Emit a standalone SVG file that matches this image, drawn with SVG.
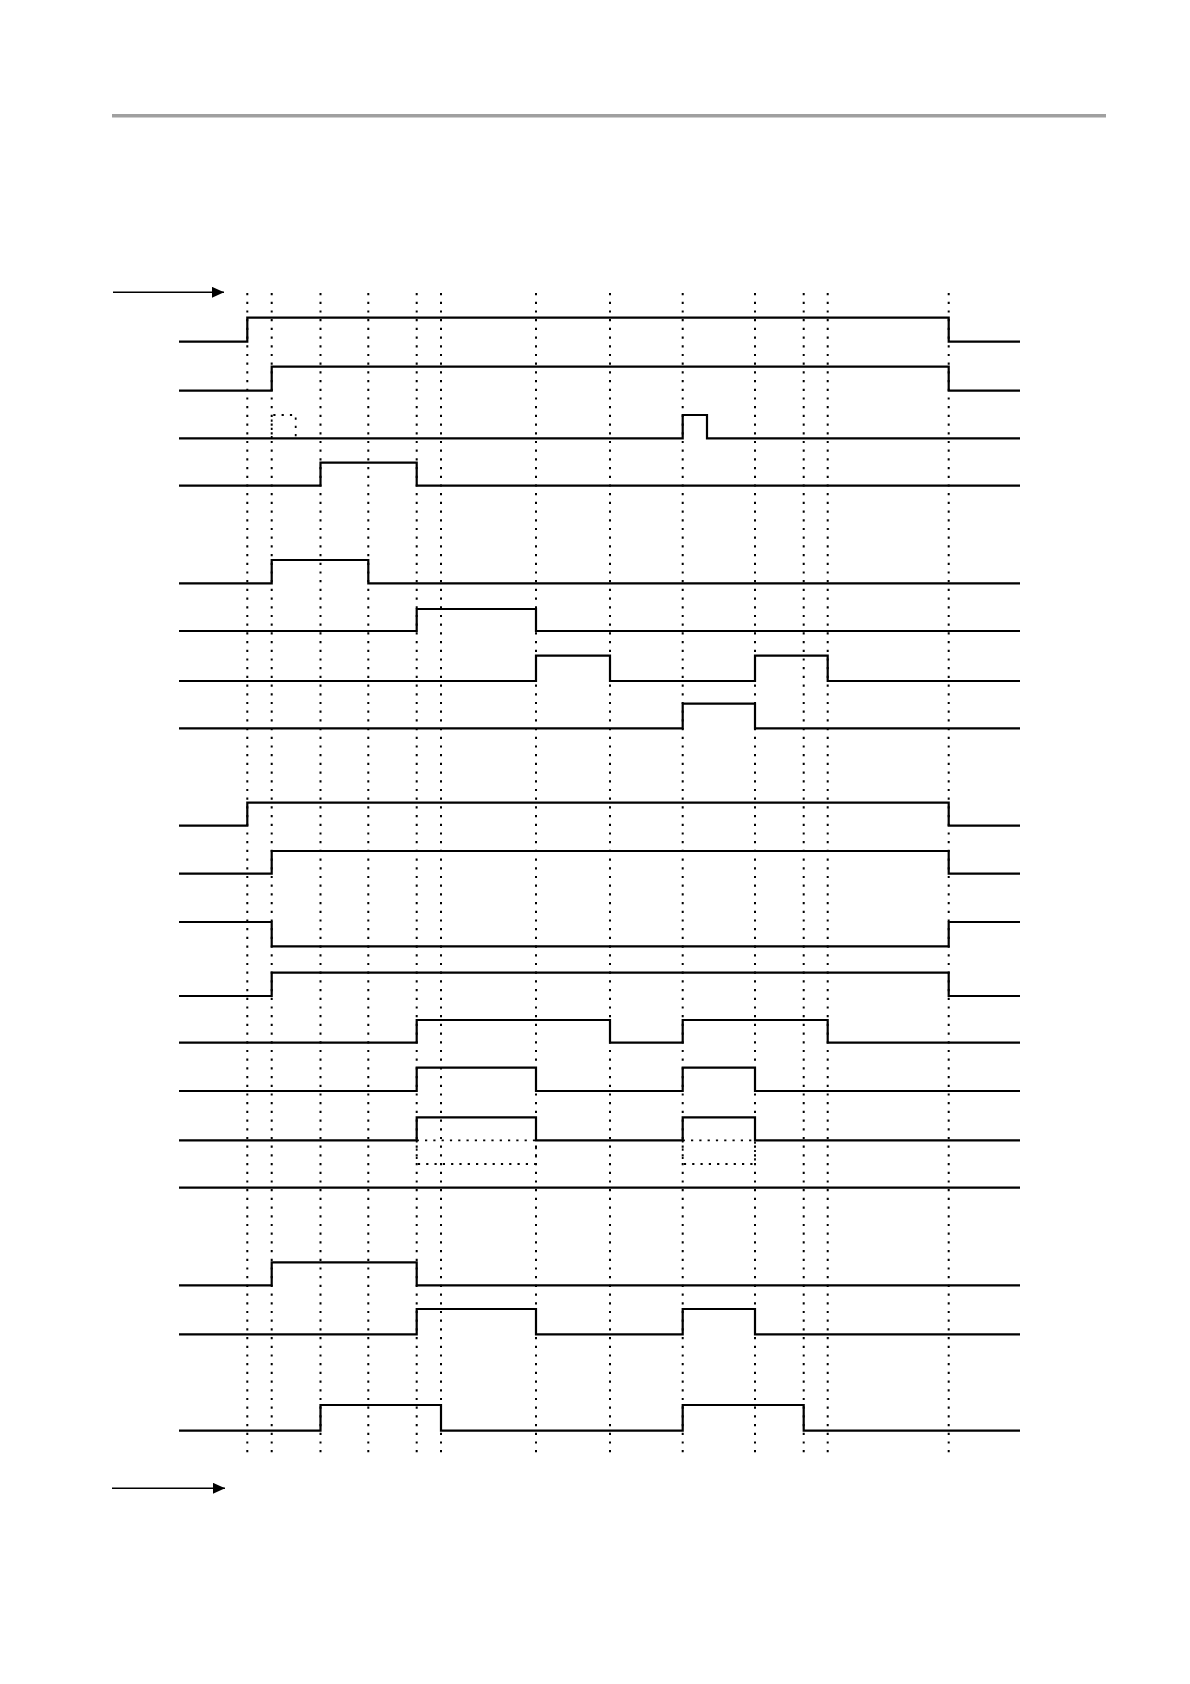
<svg xmlns="http://www.w3.org/2000/svg" width="1190" height="1684" viewBox="0 0 1190 1684">
<style>
.sig{fill:none;stroke:#000;stroke-width:2.2;stroke-linejoin:miter}
.grid{fill:none;stroke:#000;stroke-width:2;stroke-dasharray:2.2 6.5}
.dot{fill:none;stroke:#000;stroke-width:1.8;stroke-dasharray:2.2 6.1}
.arr{fill:none;stroke:#000;stroke-width:1.5}
</style>
<defs>
<marker id="ah" viewBox="0 0 12 11" refX="12" refY="5.5" markerWidth="12" markerHeight="11" markerUnits="userSpaceOnUse" orient="auto">
<path d="M0 0 L12 5.5 L0 11 Z" fill="#000"/>
</marker>
</defs>
<rect width="1190" height="1684" fill="#fff"/>
<line x1="112" y1="115.8" x2="1106" y2="115.8" stroke="#a0a0a0" stroke-width="3.6"/>
<g id="grid">
<path class="grid" d="M247.3 293V1454M271.7 293V1454M320.5 293V1454M368.3 293V1454M416.7 293V1454M441 293V1454M536 293V1454M610 293V1454M682.7 293V1454M755 293V1454M803.7 293V1454M827.7 293V1454M948.7 293V1454"/>
</g>
<g id="connectors">
<line class="arr" x1="113" y1="292.3" x2="224" y2="292.3" marker-end="url(#ah)"/>
<line class="arr" x1="112" y1="1488.3" x2="225" y2="1488.3" marker-end="url(#ah)"/>
</g>
<g id="s1"><path class="sig" d="M179 341.7H247.3V317.7H948.7V341.7H1020"/></g>
<g id="s2"><path class="sig" d="M179 390.7H271.7V366.7H948.7V390.7H1020"/></g>
<g id="s3"><path class="sig" d="M179 438.3H682.7V415H707V438.3H1020"/><path class="dot" d="M271.7 438.3V415H295.7V438.3"/></g>
<g id="s4"><path class="sig" d="M179 485.7H320.5V462.7H416.7V485.7H1020"/></g>
<g id="s5"><path class="sig" d="M179 583.3H271.7V560H368.3V583.3H1020"/></g>
<g id="s6"><path class="sig" d="M179 631H416.7V609H536V631H1020"/></g>
<g id="s7"><path class="sig" d="M179 681H536V655.7H610V681H755V655.7H827.7V681H1020"/></g>
<g id="s8"><path class="sig" d="M179 728.3H682.7V703.7H755V728.3H1020"/></g>
<g id="s9"><path class="sig" d="M179 825.7H247.3V802.7H948.7V825.7H1020"/></g>
<g id="s10"><path class="sig" d="M179 873.7H271.7V851H948.7V873.7H1020"/></g>
<g id="s11"><path class="sig" d="M179 922H271.7V946.3H948.7V922H1020"/></g>
<g id="s12"><path class="sig" d="M179 996H271.7V972.7H948.7V996H1020"/></g>
<g id="s13"><path class="sig" d="M179 1042.7H416.7V1020H610V1042.7H682.7V1020H827.7V1042.7H1020"/></g>
<g id="s14"><path class="sig" d="M179 1091H416.7V1067.7H536V1091H682.7V1067.7H755V1091H1020"/></g>
<g id="s15"><path class="sig" d="M179 1140.3H416.7V1117.3H536V1140.3H682.7V1117.3H755V1140.3H1020"/><path class="dot" d="M416.7 1140.3H536M416.7 1140.3V1164H536V1140.3M682.7 1140.3H755M682.7 1140.3V1164H755V1140.3"/></g>
<g id="s16"><path class="sig" d="M179 1187.7H1020"/></g>
<g id="s17"><path class="sig" d="M179 1285.3H271.7V1262.3H416.7V1285.3H1020"/></g>
<g id="s18"><path class="sig" d="M179 1334.3H416.7V1309H536V1334.3H682.7V1309H755V1334.3H1020"/></g>
<g id="s19"><path class="sig" d="M179 1430.7H320.5V1405H441V1430.7H682.7V1405H803.7V1430.7H1020"/></g>
</svg>
